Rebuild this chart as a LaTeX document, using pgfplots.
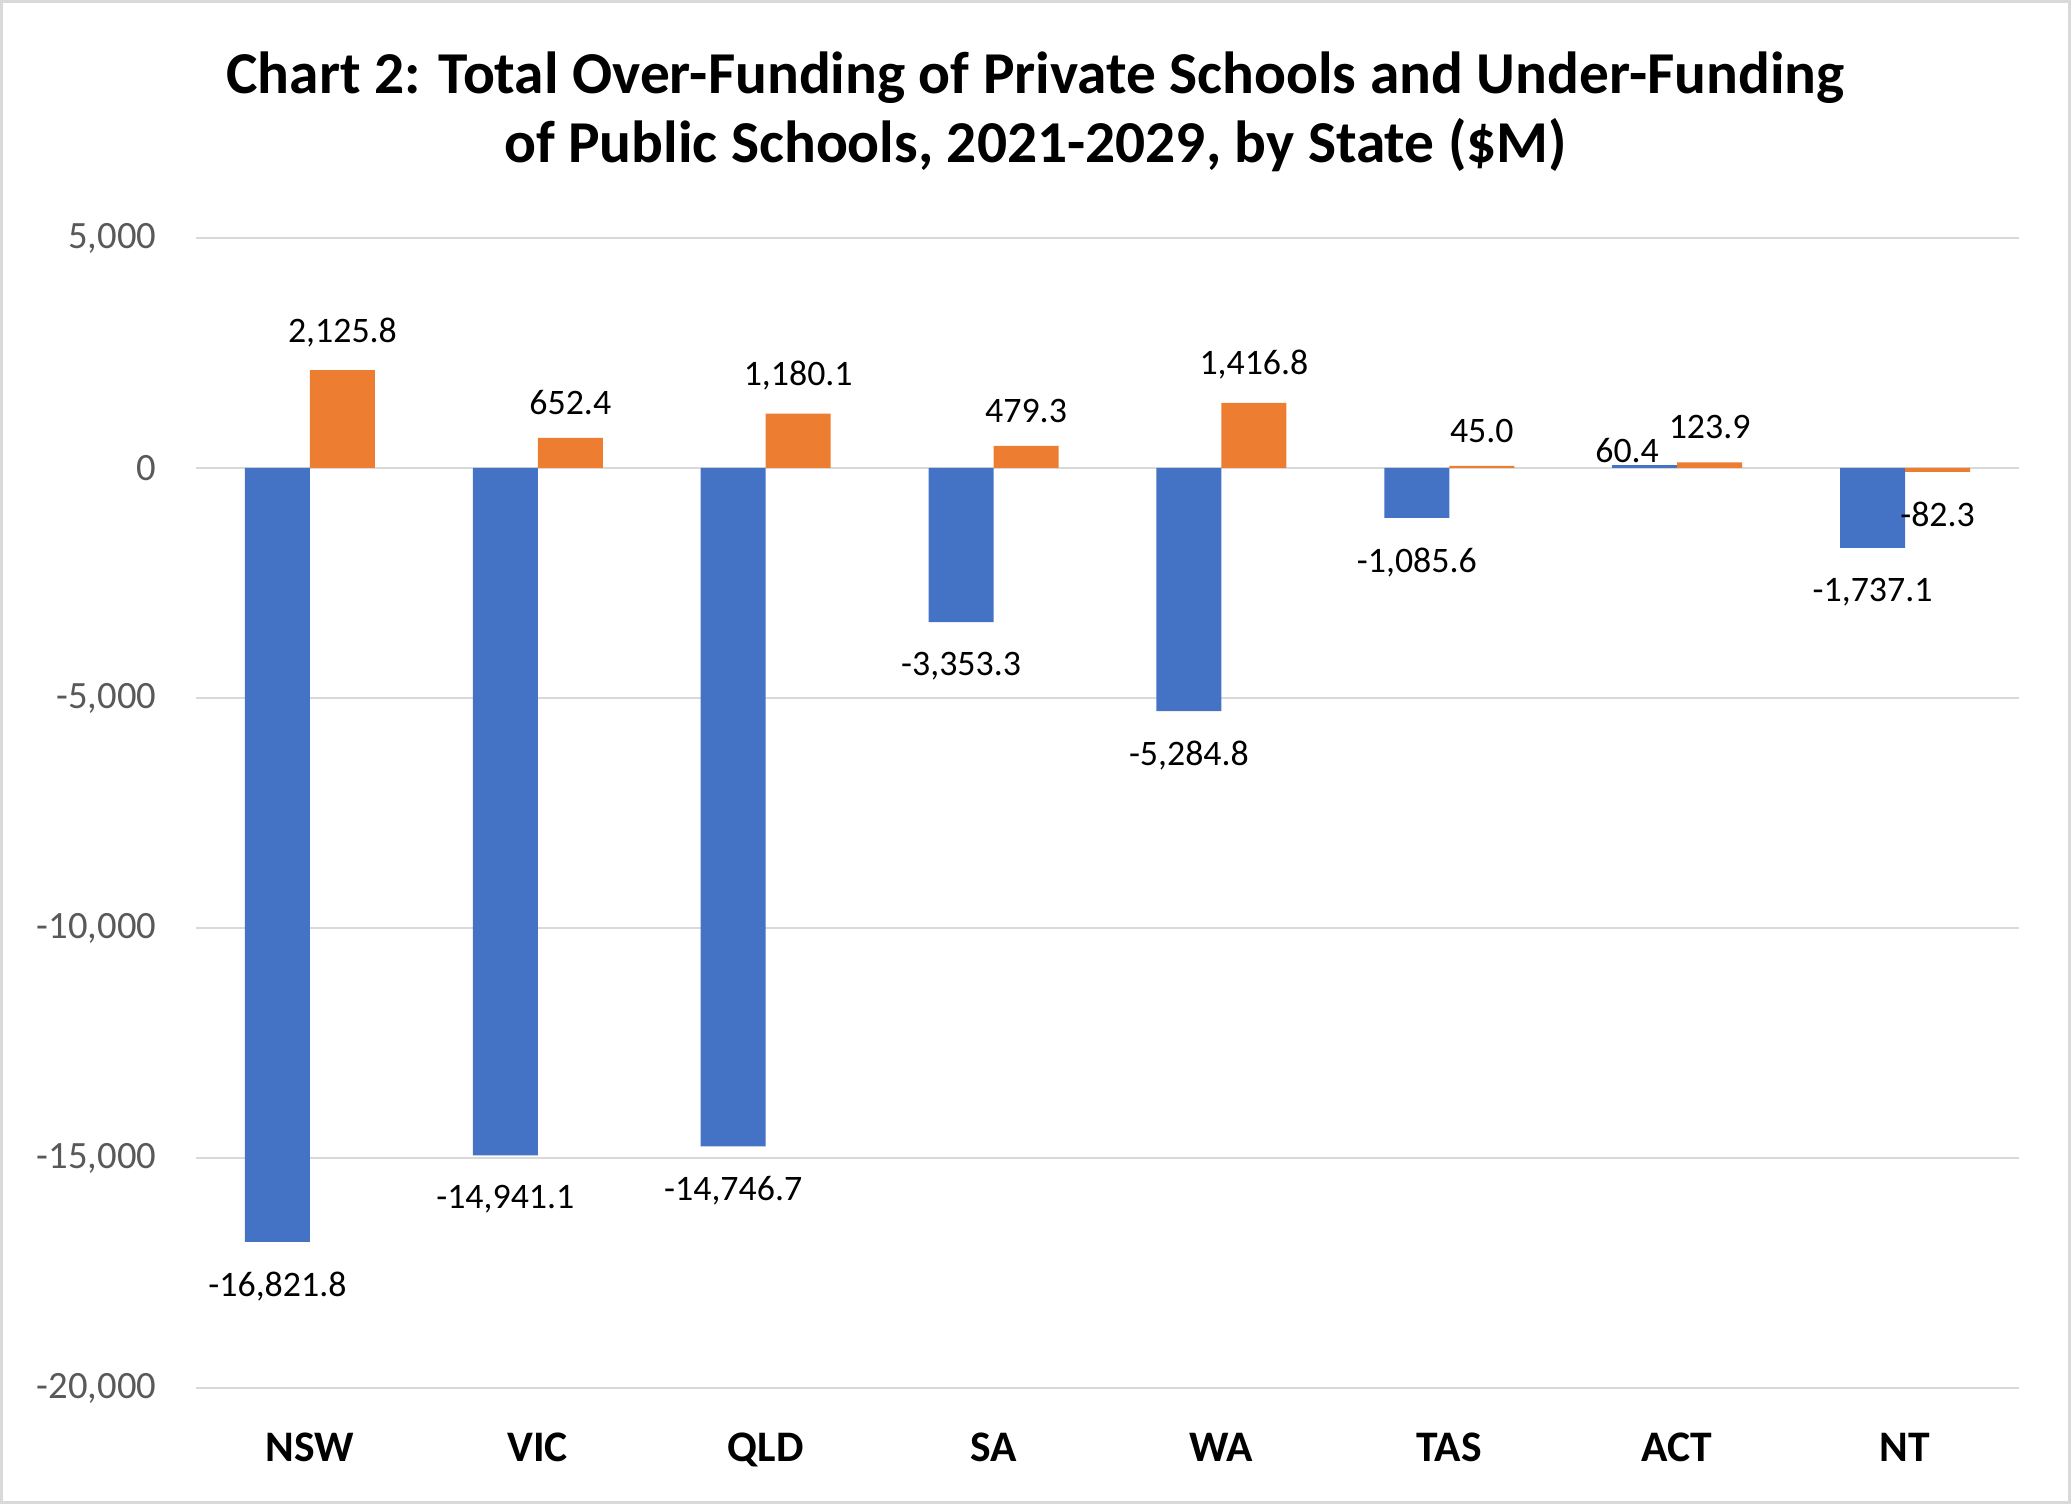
\documentclass[border=0pt]{standalone}
\usepackage{fontspec}
\setmainfont{Carlito}
\usepackage{pgfplots}
\usepackage{pgfplotstable}
\pgfplotsset{compat=1.18}

\definecolor{xlblue}{HTML}{4472C4}
\definecolor{xlorange}{HTML}{ED7D31}
\definecolor{gridgray}{HTML}{D9D9D9}
\definecolor{ticktext}{HTML}{595959}

\newcommand\vlabel{\pgfmathprintnumber[fixed,fixed zerofill,precision=1,
  1000 sep={,},assume math mode=true]{\pgfplotspointmeta}}

% a = public schools (blue), b = private schools (orange)
\pgfplotstableread{
x state a        b
0 NSW   -16821.8 2125.8
1 VIC   -14941.1 652.4
2 QLD   -14746.7 1180.1
3 SA    -3353.3  479.3
4 WA    -5284.8  1416.8
5 TAS   -1085.6  45.0
6 ACT   60.4     123.9
7 NT    -1737.1  -82.3
}\fundtab

\begin{document}
\begin{tikzpicture}
\useasboundingbox (0,0) rectangle (20.71cm,15.04cm);
\draw[gridgray, line width=0.03cm] (0.015cm,0.015cm) rectangle (20.695cm,15.025cm);

\begin{axis}[
  at={(1.96cm,1.16cm)}, anchor=south west,
  scale only axis, width=18.23cm, height=11.50cm,
  xmin=-0.5, xmax=7.5, ymin=-20000, ymax=5000,
  ybar=0pt, bar width=0.65cm,
  axis line style={draw=none}, tick style={draw=none},
  ymajorgrids, grid style={color=gridgray, line width=0.8pt},
  xtick={0,...,7},
  xticklabels={NSW,VIC,QLD,SA,WA,TAS,ACT,NT},
  xticklabel style={anchor=base, yshift=-0.585cm,
    font=\bfseries\fontsize{12.4}{14}\selectfont},
  ytick={-20000,-15000,...,5000},
  yticklabel style={anchor=east, inner sep=0pt, xshift=-0.39cm,
    font=\fontsize{11}{13}\selectfont, text=ticktext,
    /pgf/number format/.cd, 1000 sep={,}, assume math mode=true},
  scaled y ticks=false,
  nodes near coords={\vlabel},
  nodes near coords align={vertical},
  nodes near coords style={font=\fontsize{10.2}{12}\selectfont, text=black,
    inner sep=0pt, outer xsep=0pt, outer ysep=7.6pt, yshift=-0.9pt},
  clip=false,
]
\addplot[fill=xlblue, draw=none,
  visualization depends on={x \as \myx},
  nodes near coords={\ifdim\myx pt=6pt
    \raisebox{-6pt}[\height][\depth]{\kern-5pt\vlabel\kern5pt}\else\vlabel\fi}]
  table[x=x, y=a] {\fundtab};
\addplot[fill=xlorange, draw=none] table[x=x, y=b] {\fundtab};
\end{axis}

\node[anchor=base, font=\bfseries\fontsize{16.9}{20}\selectfont, inner sep=0pt]
  at (10.355cm,14.10cm) {Chart 2: Total Over-Funding of Private Schools and Under-Funding};
\node[anchor=base, font=\bfseries\fontsize{16.9}{20}\selectfont, inner sep=0pt]
  at (10.355cm,13.41cm) {of Public Schools, 2021-2029, by State (\$M)};
\end{tikzpicture}
\end{document}
